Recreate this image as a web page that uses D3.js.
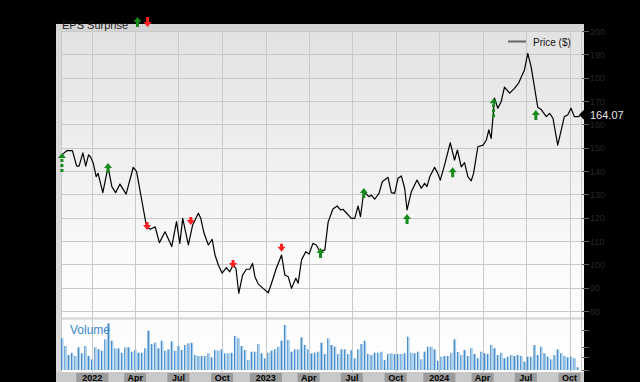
<!DOCTYPE html>
<html>
<head>
<meta charset="utf-8">
<script src="https://cdn.jsdelivr.net/npm/d3@7"></script>
<style>
  html, body { margin: 0; padding: 0; background: #000; }
  svg { display: block; font-family: "Liberation Sans", Arial, sans-serif; }
</style>
</head>
<body>
<svg id="chart" width="640" height="382"></svg>
<script>
const priceDates = [
  "2021-10-29","2021-11-08","2021-11-20","2021-11-29","2021-12-04","2021-12-12","2021-12-18","2021-12-24","2021-12-28",
  "2022-01-03","2022-01-09","2022-01-13","2022-01-23","2022-02-03","2022-02-11","2022-02-19","2022-02-28","2022-03-13","2022-03-28",
  "2022-04-04","2022-04-25","2022-05-03","2022-05-13","2022-05-22","2022-06-03","2022-06-17","2022-06-27","2022-07-04","2022-07-10",
  "2022-07-22","2022-07-31","2022-08-12","2022-08-17","2022-08-24","2022-09-02","2022-09-10","2022-09-16","2022-09-23","2022-10-01",
  "2022-10-10","2022-10-17","2022-10-24","2022-10-30","2022-11-05","2022-11-13","2022-11-21","2022-11-28","2022-12-04","2022-12-09",
  "2022-12-16","2022-12-26",
  "2023-01-06","2023-01-13","2023-01-23","2023-02-03","2023-02-10","2023-02-17","2023-02-24","2023-03-05","2023-03-10","2023-03-17",
  "2023-03-26","2023-04-02","2023-04-10","2023-04-17","2023-04-24","2023-05-05","2023-05-12","2023-05-22","2023-05-31","2023-06-07",
  "2023-06-12","2023-06-19","2023-06-30","2023-07-07","2023-07-14","2023-07-19","2023-07-26","2023-08-06","2023-08-11","2023-08-18",
  "2023-08-27","2023-09-03","2023-09-15","2023-09-22","2023-09-29","2023-10-06","2023-10-13","2023-10-20","2023-10-25","2023-11-03",
  "2023-11-15","2023-11-24","2023-12-01","2023-12-06","2023-12-12","2023-12-22","2023-12-28",
  "2024-01-03","2024-01-12","2024-01-24","2024-02-02","2024-02-08","2024-02-16","2024-02-23","2024-03-01","2024-03-08","2024-03-13",
  "2024-03-22","2024-04-02","2024-04-09","2024-04-14","2024-04-19","2024-04-24","2024-04-26","2024-05-03","2024-05-10","2024-05-17",
  "2024-05-28","2024-06-07","2024-06-16","2024-06-25","2024-06-28","2024-07-05","2024-07-12","2024-07-19","2024-07-26","2024-08-02",
  "2024-08-13","2024-08-20","2024-08-27","2024-09-06","2024-09-20","2024-09-27","2024-10-04","2024-10-11","2024-10-20","2024-10-25"
]

const prices = [
  146.9,148.7,148.7,142.1,142.1,147.8,142.1,146.9,146.1,
  143.3,137.6,139.0,130.7,141.8,133.3,130.7,134.4,130.1,141.6,
  139.7,116.1,115.0,116.1,109.3,114.0,107.6,118.3,109.0,119.7,
  108.3,116.9,121.9,119.7,113.3,108.3,110.7,104.0,99.7,96.2,
  98.6,96.8,99.7,98.3,87.6,95.4,97.9,97.9,100.4,94.7,
  91.6,89.7,
  87.8,91.9,98.3,104.0,95.4,94.7,89.7,94.0,91.9,101.9,
  105.4,104.4,109.0,108.3,105.8,106.1,118.1,123.7,125.0,123.3,
  123.6,122.1,119.7,119.7,125.0,120.4,131.1,129.0,129.7,127.9,
  130.4,135.4,137.3,130.7,130.4,136.9,137.9,132.6,123.3,131.1,
  136.1,132.6,134.7,133.3,137.6,141.6,139.3,
  136.1,142.6,152.1,144.7,149.0,141.8,143.6,137.6,135.8,139.0,
  150.4,151.1,153.3,157.6,154.0,166.1,171.2,166.9,169.7,175.9,
  173.4,175.4,177.8,181.9,183.3,190.4,184.7,176.1,167.3,166.4,
  163.3,164.7,162.6,151.1,163.3,164.0,166.9,163.3,163.3,164.07
]

const lastPrice = "164.07"

// weekly volume, first bar in the week of 2021-10-29
const volumeStart = "2021-10-29"
const volumes = [
  31.7,24,15,17.3,14,22.7,16.7,24,14,10.7,
  22.7,20.7,19.3,30.7,46.7,29.3,21.7,21.7,17.3,22.7,
  22.7,18.3,20,17.3,17.3,21.7,39.3,26,27.3,21.7,
  29.3,19.3,20.7,28.7,19.3,24,20,25,26.7,27.3,
  15,14,14,14,16.7,12.7,20,19.3,20.7,16.7,
  16.7,17.3,34,31.7,
  24,20,10,18.3,18.3,26,16.7,11.7,17.3,19.3,
  20.7,23.3,29.3,45,30,18.3,20.7,20.7,32.7,25,
  20.7,16.7,17.3,18.3,27.3,16,31.7,25,23.3,16,
  20.7,20.7,16,20,11.7,20.7,26,29.3,16,15,
  17.3,17.3,18.3,10,16,16.7,16,16,16,16.7,
  33.3,17.3,16.7,18.3,10.7,18.3,23.3,23.3,20.7,9.3,
  13.3,14,14,17.3,30.7,
  18,15,20,14,22,16,
  11.7,18.3,16.7,16,25,21.7,15,17.3,11.7,13.3,
  15,14,15,14,8.3,13.3,13.3,25,15,23.3,
  16.7,13.3,10.7,15,20.7,16.7,14,12.7,13.3,11.7,2.7
]

const surpriseDates = ["2021-10-29","2022-02-03","2022-04-26","2022-07-27","2022-10-24","2023-02-03",
  "2023-04-26","2023-07-26","2023-10-25","2024-01-29","2024-04-24","2024-07-22"]
const surpriseTypes = ["up","up","down","down","down","down","up","up","up","up","up","up"]
const surpriseLevels = [147.7,143.4,114.7,116.9,98.4,105.4,107.0,132.7,121.6,141.6,171.2,166.1]
const surpriseBig = [true,false,false,false,false,false,false,false,false,false,true,false]

const priceTicks = [80,90,100,110,120,130,140,150,160,170,180,190,200]
const volumeTicks = [0,13,23,40]
const quarterDates = ["2022-01-01","2022-04-01","2022-07-01","2022-10-01","2023-01-01","2023-04-01",
  "2023-07-01","2023-10-01","2024-01-01","2024-04-01","2024-07-01","2024-10-01"]
const quarterLabels = ["2022","Apr","Jul","Oct","2023","Apr","Jul","Oct","2024","Apr","Jul","Oct"]

const parse = d3.timeParse("%Y-%m-%d")
const svg = d3.select("#chart")

const plotLeft = 61, plotRight = 581, plotTop = 31, priceBottom = 311, volTop = 320, volBottom = 370

const x = d3.scaleTime()
    .domain([parse("2021-10-27"), parse("2024-10-25")])
    .range([plotLeft, plotRight])

const y = d3.scaleLinear()
    .domain([80, 200])
    .range([priceBottom, plotTop])

const yVol = d3.scaleLinear()
    .domain([0, 50])
    .range([volBottom, volTop])

const defs = svg.append("defs")

const bgGrad = defs.append("linearGradient")
    .attr("id", "bg")
    .attr("x1", 0).attr("y1", 0).attr("x2", 0).attr("y2", 1)
bgGrad.append("stop").attr("offset", "0%").attr("stop-color", "#e2e2e2")
bgGrad.append("stop").attr("offset", "70%").attr("stop-color", "#fbfbfb")
bgGrad.append("stop").attr("offset", "100%").attr("stop-color", "#fefefe")

const barGrad = defs.append("linearGradient").attr("id", "bar")
barGrad.append("stop").attr("offset", "0%").attr("stop-color", "#4a8cc9")
barGrad.append("stop").attr("offset", "40%").attr("stop-color", "#4a8cc9")
barGrad.append("stop").attr("offset", "45%").attr("stop-color", "#a6cfee")
barGrad.append("stop").attr("offset", "100%").attr("stop-color", "#a6cfee")

// header band and panel background
svg.append("rect")
    .attr("x", 56).attr("y", 24)
    .attr("width", 528).attr("height", 7)
    .attr("fill", "#d4d4d4")

svg.append("rect")
    .attr("x", 56).attr("y", plotTop)
    .attr("width", 528).attr("height", 341)
    .attr("fill", "url(#bg)")

svg.append("rect")
    .attr("x", 56).attr("y", plotTop)
    .attr("width", 5).attr("height", 341)
    .attr("fill", "#d9d9d9")

// grid
svg.append("g")
    .selectAll("line")
    .data(priceTicks)
    .enter()
    .append("line")
    .attr("x1", plotLeft).attr("x2", 584)
    .attr("y1", d => Math.round(y(d)) + 0.5)
    .attr("y2", d => Math.round(y(d)) + 0.5)
    .attr("stroke", "#c9c9c9")

svg.append("line")
    .attr("x1", plotLeft).attr("x2", 584)
    .attr("y1", 318.5).attr("y2", 318.5)
    .attr("stroke", "#d2d2d2")
    .attr("stroke-width", 2)

svg.append("g")
    .selectAll("line")
    .data(quarterDates.map(parse).concat([x.domain()[1]]))
    .enter()
    .append("line")
    .attr("x1", d => Math.round(x(d)) + 0.5)
    .attr("x2", d => Math.round(x(d)) + 0.5)
    .attr("y1", plotTop).attr("y2", 372)
    .attr("stroke", "#c9c9c9")

svg.append("line")
    .attr("x1", plotLeft + 0.5).attr("x2", plotLeft + 0.5)
    .attr("y1", plotTop).attr("y2", 372)
    .attr("stroke", "#c9c9c9")

// volume
const volDates = volumes.map((d, i) => d3.timeDay.offset(parse(volumeStart), i * 7))

svg.append("g")
    .selectAll("rect")
    .data(volumes)
    .enter()
    .append("rect")
    .attr("x", (d, i) => x(volDates[i]) - 1)
    .attr("y", d => yVol(d))
    .attr("width", 2.6)
    .attr("height", d => volBottom - yVol(d))
    .attr("fill", "url(#bar)")

svg.append("text")
    .attr("x", 70)
    .attr("y", 334)
    .attr("font-size", 12)
    .attr("fill", "#3c88cc")
    .text("Volume")

// price line
const priceData = priceDates.map((d, i) => ({ date: parse(d), price: prices[i] }))

const line = d3.line()
    .x(d => x(d.date))
    .y(d => y(d.price))

svg.append("path")
    .datum(priceData)
    .attr("d", line)
    .attr("fill", "none")
    .attr("stroke", "#000")
    .attr("stroke-width", 1.2)
    .attr("stroke-linejoin", "round")

// EPS surprise arrows
const upArrow = "M0,0 L4,5 L1.5,5 L1.5,10 L-1.5,10 L-1.5,5 L-4,5 Z"
const upArrowBig = "M0,0 L4,5 L-4,5 Z M-1.5,6 h3 v3 h-3 Z M-1.5,11 h3 v3 h-3 Z M-1.5,16 h3 v3 h-3 Z"
const downArrow = "M0,0 L4,-5 L1.5,-5 L1.5,-8 L-1.5,-8 L-1.5,-5 L-4,-5 Z"

svg.append("g")
    .selectAll("path")
    .data(surpriseDates)
    .enter()
    .append("path")
    .attr("transform", (d, i) => `translate(${x(parse(d))}, ${y(surpriseLevels[i])})`)
    .attr("d", (d, i) => {
        if (surpriseTypes[i] == "down") return downArrow
        return surpriseBig[i] ? upArrowBig : upArrow
    })
    .attr("fill", (d, i) => surpriseTypes[i] == "down" ? "#ff1e1e" : "#178a1c")

// header legend
svg.append("text")
    .attr("x", 62)
    .attr("y", 29)
    .attr("font-size", 11)
    .attr("fill", "#1c1c1c")
    .text("EPS Surprise")

svg.append("path")
    .attr("transform", "translate(137.5, 17)")
    .attr("d", upArrow)
    .attr("fill", "#178a1c")

svg.append("path")
    .attr("transform", "translate(147.5, 27)")
    .attr("d", "M0,0 L4,-5 L1.5,-5 L1.5,-10 L-1.5,-10 L-1.5,-5 L-4,-5 Z")
    .attr("fill", "#ff1e1e")

svg.append("line")
    .attr("x1", 508).attr("x2", 526)
    .attr("y1", 41.5).attr("y2", 41.5)
    .attr("stroke", "#666")
    .attr("stroke-width", 2)

svg.append("text")
    .attr("x", 533)
    .attr("y", 45.5)
    .attr("font-size", 10)
    .attr("fill", "#111")
    .text("Price ($)")

// right axis
svg.append("g")
    .selectAll("line")
    .data(priceTicks)
    .enter()
    .append("line")
    .attr("x1", 582).attr("x2", 589)
    .attr("y1", d => Math.round(y(d)) + 0.5)
    .attr("y2", d => Math.round(y(d)) + 0.5)
    .attr("stroke", "#5a5a5a")

svg.append("g")
    .selectAll("text")
    .data(priceTicks)
    .enter()
    .append("text")
    .attr("x", 590)
    .attr("y", d => y(d) + 3.5)
    .attr("font-size", 9)
    .attr("fill", "#262626")
    .text(d => d)

svg.append("g")
    .selectAll("line")
    .data(volumeTicks)
    .enter()
    .append("line")
    .attr("x1", 582).attr("x2", 589)
    .attr("y1", d => Math.round(yVol(d)) + 0.5)
    .attr("y2", d => Math.round(yVol(d)) + 0.5)
    .attr("stroke", "#5a5a5a")

// last price tag
const lastY = y(+lastPrice)
svg.append("path")
    .attr("d", `M579,${lastY} L585,${lastY - 6} L630,${lastY - 6} L630,${lastY + 6} L585,${lastY + 6} Z`)
    .attr("fill", "#000")

svg.append("text")
    .attr("x", 590)
    .attr("y", lastY + 4)
    .attr("font-size", 11)
    .attr("fill", "#e4e4e4")
    .text(lastPrice)

// bottom axis
svg.append("rect")
    .attr("x", 56).attr("y", 372)
    .attr("width", 528).attr("height", 10)
    .attr("fill", "#c9c9c9")

const labels = svg.append("g")
    .selectAll("g")
    .data(quarterDates)
    .enter()
    .append("g")
    .attr("transform", d => `translate(${x(parse(d))}, 0)`)

labels.append("rect")
    .attr("x", (d, i) => quarterLabels[i].length > 3 ? -16 : -11)
    .attr("y", 373)
    .attr("width", (d, i) => quarterLabels[i].length > 3 ? 32 : 22)
    .attr("height", 9)
    .attr("fill", "#9a9a9a")

labels.append("text")
    .attr("y", 380.5)
    .attr("text-anchor", "middle")
    .attr("font-size", 9)
    .attr("font-weight", "bold")
    .attr("fill", "#000")
    .text((d, i) => quarterLabels[i])
</script>
</body>
</html>
